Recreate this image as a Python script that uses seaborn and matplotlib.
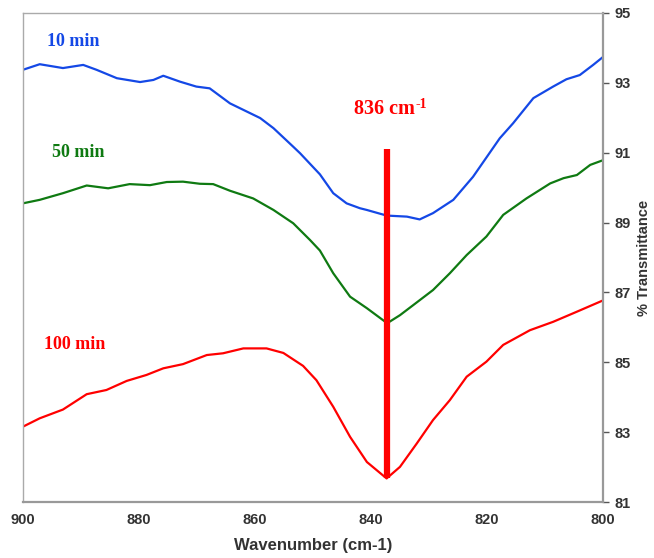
import numpy as np
import pandas as pd
import matplotlib
matplotlib.use("Agg")
import matplotlib.pyplot as plt
import seaborn as sns

# ---- data ----
x_10 = [900, 897.1, 893.1, 889.6, 887.3, 883.8, 879.8, 877.5, 875.8, 872.9, 870.1, 867.8, 864.3,
        859.1, 856.8, 853.4, 852.2, 848.8, 846.5, 844.2, 841.9, 840.7, 837.3, 833.8, 831.6, 829.3,
        825.8, 822.4, 817.8, 815.5, 812.0, 808.6, 806.3, 804.0, 801.7, 799.9]
y_10 = [93.37, 93.53, 93.42, 93.51, 93.37, 93.13, 93.02, 93.08, 93.2, 93.03, 92.89, 92.84, 92.41,
        91.99, 91.7, 91.17, 90.98, 90.38, 89.84, 89.55, 89.41, 89.36, 89.2, 89.17, 89.09, 89.27,
        89.65, 90.31, 91.41, 91.84, 92.56, 92.89, 93.1, 93.22, 93.51, 93.75]

x_50 = [900, 897.1, 893.1, 889.0, 885.3, 881.6, 878.1, 875.2, 872.4, 869.5, 867.2, 864.3, 860.3,
        856.8, 853.4, 850.5, 848.8, 846.5, 843.6, 840.7, 837.2, 835.0, 832.7, 829.3, 826.4, 823.5,
        820.1, 817.2, 813.2, 809.1, 806.8, 804.5, 802.2, 799.9]
y_50 = [89.55, 89.65, 89.84, 90.06, 89.98, 90.1, 90.07, 90.16, 90.17, 90.11, 90.1, 89.91, 89.69,
        89.36, 88.98, 88.5, 88.2, 87.55, 86.88, 86.55, 86.12, 86.35, 86.64, 87.07, 87.55, 88.07,
        88.6, 89.22, 89.69, 90.12, 90.27, 90.36, 90.65, 90.79]

x_100 = [900, 897.1, 893.1, 889.0, 885.6, 882.1, 878.7, 875.8, 872.4, 868.3, 865.5, 862.0, 858.0,
         855.1, 851.7, 849.4, 846.5, 843.6, 840.7, 837.3, 835.0, 832.1, 829.3, 826.4, 823.5,
         820.1, 817.2, 812.6, 808.6, 804.5, 799.9]
y_100 = [83.16, 83.4, 83.65, 84.09, 84.21, 84.47, 84.64, 84.83, 84.95, 85.21, 85.26, 85.4, 85.4,
         85.27, 84.9, 84.49, 83.73, 82.87, 82.15, 81.68, 82.01, 82.68, 83.35, 83.92, 84.59,
         85.02, 85.5, 85.92, 86.16, 86.45, 86.78]

series_names = ["10 min", "50 min", "100 min"]
series_colors = ["#1448e6", "#0f7a12", "#ff0000"]
peak_x = 837.2
peak_range = [81.7, 91.1]
peak_text = "836 cm"
peak_sup = "-1"

x_ticks = [900, 880, 860, 840, 820, 800]
y_ticks = [81, 83, 85, 87, 89, 91, 93, 95]

df = pd.concat([
    pd.DataFrame({"wn": x_10, "T": y_10, "s": series_names[0]}),
    pd.DataFrame({"wn": x_50, "T": y_50, "s": series_names[1]}),
    pd.DataFrame({"wn": x_100, "T": y_100, "s": series_names[2]}),
])

sns.set_style("white")
plt.rcParams["font.family"] = ["Liberation Sans", "DejaVu Sans"]

fig = plt.figure(figsize=(6.54, 5.58), dpi=100)
ax = fig.add_axes([0.035, 0.100, 0.887, 0.877])

sns.lineplot(data=df, x="wn", y="T", hue="s", palette=dict(zip(series_names, series_colors)),
             linewidth=1.6, legend=False, ax=ax, estimator=None, sort=True)

ax.vlines(peak_x, peak_range[0], peak_range[1], color="#ff0000", linewidth=4.5, zorder=5)

ax.set_xlim(900, 800)
ax.set_ylim(81, 95)
ax.set_xticks(x_ticks)
ax.set_yticks(y_ticks)
ax.yaxis.tick_right()
ax.yaxis.set_label_position("right")
ax.tick_params(axis="both", labelsize=10.5, colors="#555555", labelcolor="#333333",
               length=4, width=1)
ax.tick_params(axis="x", direction="inout", length=5, pad=5)
ax.tick_params(axis="y", direction="out", pad=4)
for lab in ax.get_xticklabels() + ax.get_yticklabels():
    lab.set_fontweight("bold")

ax.set_xlabel("Wavenumber (cm-1)", fontsize=12, fontweight="bold", color="#333333", labelpad=8)
ax.set_ylabel("% Transmittance", fontsize=10.5, fontweight="bold", color="#333333", labelpad=5)

for side in ["top", "left"]:
    ax.spines[side].set_color("#aaaaaa")
    ax.spines[side].set_linewidth(1.0)
for side in ["right", "bottom"]:
    ax.spines[side].set_color("#999999")
    ax.spines[side].set_linewidth(1.6)

serif = ["Liberation Serif", "DejaVu Serif"]
ax.text(891.3, 94.17, series_names[0], color=series_colors[0], fontsize=13, fontweight="bold",
        family=serif, ha="center", va="center")
ax.text(890.5, 91.0, series_names[1], color=series_colors[1], fontsize=13, fontweight="bold",
        family=serif, ha="center", va="center")
ax.text(891.0, 85.5, series_names[2], color=series_colors[2], fontsize=13, fontweight="bold",
        family=serif, ha="center", va="center")
t = ax.text(837.6, 92.25, peak_text, color="#ff0000", fontsize=14.5, fontweight="bold",
            family=serif, ha="center", va="center")
ax.annotate(peak_sup, xy=(1.0, 1.05), xycoords=t, color="#ff0000", fontsize=10,
            fontweight="bold", family=serif, ha="left", va="top")

fig.savefig("out.png", dpi=100)
